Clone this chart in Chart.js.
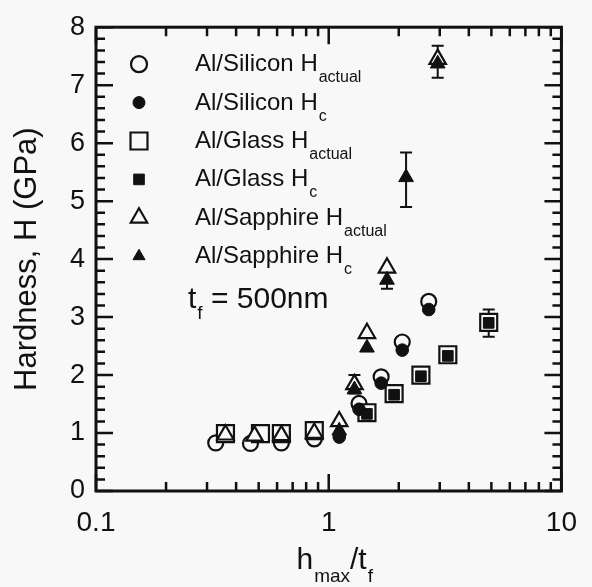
<!DOCTYPE html>
<html>
<head>
<meta charset="utf-8">
<script src="https://cdn.jsdelivr.net/npm/chart.js@4.4.0/dist/chart.umd.min.js"></script>
<style>
  html, body { margin: 0; padding: 0; background: #f7f8f7; }
  #chart { display: block; }
</style>
</head>
<body>
<canvas id="chart" width="592" height="587"></canvas>
<script>
// tick labels
const xTickValues = [0.1, 1, 10];
const yTickValues = [0, 1, 2, 3, 4, 5, 6, 7, 8];

// Al/Silicon
const siActualX = [0.327, 0.461, 0.626, 0.867, 1.35, 1.68, 2.07, 2.69];
const siActualY = [0.83, 0.82, 0.83, 0.90, 1.51, 1.97, 2.57, 3.27];
const siCX = [1.11, 1.35, 1.68, 2.07, 2.69];
const siCY = [0.93, 1.41, 1.86, 2.43, 3.13];

// Al/Glass
const glassActualX = [0.36, 0.509, 0.626, 0.867, 1.46, 1.91, 2.49, 3.25, 4.87];
const glassActualY = [0.99, 0.99, 0.99, 1.04, 1.35, 1.68, 2.0, 2.35, 2.91];
const glassCX = [1.46, 1.91, 2.49, 3.25, 4.87];
const glassCY = [1.33, 1.66, 1.98, 2.33, 2.9];

// Al/Sapphire
const sapActualX = [0.36, 0.48, 0.626, 0.867, 1.11, 1.29, 1.46, 1.78, 2.94];
const sapActualY = [0.97, 0.95, 0.96, 1.0, 1.2, 1.84, 2.72, 3.85, 7.45];
const sapCX = [1.11, 1.29, 1.46, 1.78, 2.15, 2.94];
const sapCY = [1.04, 1.75, 2.47, 3.64, 5.41, 7.37];

// error bars
const errX = [1.29, 1.78, 2.15, 2.94, 4.87];
const errLow = [1.68, 3.49, 4.9, 7.13, 2.66];
const errHigh = [2.0, 3.85, 5.84, 7.68, 3.13];

const BG = '#f7f8f7';
const INK = '#111';
const FONT = '"Liberation Sans", Arial, Helvetica, sans-serif';

const pts = (xs, ys) => xs.map((x, i) => ({ x: x, y: ys[i] }));

// legend rows: [pointStyle, radius, filled, main text, subscript]
const legendRows = [
    ['circle', 8, false, 'Al/Silicon H', 'actual'],
    ['circle', 6, true, 'Al/Silicon H', 'c'],
    ['rect', 12, false, 'Al/Glass H', 'actual'],
    ['rect', 7.5, true, 'Al/Glass H', 'c'],
    ['triangle', 9.5, false, 'Al/Sapphire H', 'actual'],
    ['triangle', 7, true, 'Al/Sapphire H', 'c']
];

function makeSet(label, data, style, radius, filled, order) {
    return {
        label: label,
        data: data,
        pointStyle: style,
        pointRadius: radius,
        pointHoverRadius: radius,
        pointBackgroundColor: filled ? INK : BG,
        pointBorderColor: INK,
        pointBorderWidth: filled ? 1 : 2.2,
        showLine: false,
        order: order
    };
}

function drawSub(ctx, x, y, main, sub, size, subSize, drop) {
    ctx.font = size + 'px ' + FONT;
    ctx.textAlign = 'left';
    ctx.textBaseline = 'alphabetic';
    ctx.fillText(main, x, y);
    const w = ctx.measureText(main).width;
    ctx.font = subSize + 'px ' + FONT;
    ctx.fillText(sub, x + w + 1, y + drop);
    return x + w + 1 + ctx.measureText(sub).width;
}

const background = {
    id: 'background',
    beforeDraw(chart) {
        const ctx = chart.ctx;
        ctx.save();
        ctx.fillStyle = BG;
        ctx.fillRect(0, 0, chart.width, chart.height);
        ctx.restore();
    }
};

const errorBars = {
    id: 'errorBars',
    beforeDatasetsDraw(chart) {
        const ctx = chart.ctx;
        const xs = chart.scales.x, ys = chart.scales.y;
        ctx.save();
        ctx.strokeStyle = INK;
        ctx.lineWidth = 2;
        errX.forEach((x, i) => {
            const px = xs.getPixelForValue(x);
            const lo = ys.getPixelForValue(errLow[i]);
            const hi = ys.getPixelForValue(errHigh[i]);
            ctx.beginPath();
            ctx.moveTo(px, lo); ctx.lineTo(px, hi);
            ctx.moveTo(px - 6, lo); ctx.lineTo(px + 6, lo);
            ctx.moveTo(px - 6, hi); ctx.lineTo(px + 6, hi);
            ctx.stroke();
        });
        ctx.restore();
    }
};

const frame = {
    id: 'frame',
    afterDraw(chart) {
        const ctx = chart.ctx;
        const a = chart.chartArea;
        const xs = chart.scales.x, ys = chart.scales.y;
        ctx.save();
        ctx.strokeStyle = INK;

        // inward ticks on all four sides
        ctx.lineWidth = 2.5;
        ctx.beginPath();
        for (let d = 0.1; d < 10; d *= 10) {
            for (let m = 1; m <= 10; m++) {
                const v = d * m;
                const px = xs.getPixelForValue(v);
                const len = (m === 1 || m === 10) ? 17 : 9;
                ctx.moveTo(px, a.bottom); ctx.lineTo(px, a.bottom - len);
                ctx.moveTo(px, a.top); ctx.lineTo(px, a.top + len);
            }
        }
        for (let k = 0; k <= 40; k++) {
            const py = ys.getPixelForValue(k * 0.2);
            const len = (k % 5 === 0) ? 17 : 9;
            ctx.moveTo(a.left, py); ctx.lineTo(a.left + len, py);
            ctx.moveTo(a.right, py); ctx.lineTo(a.right - len, py);
        }
        ctx.stroke();

        ctx.lineWidth = 3;
        ctx.strokeRect(a.left, a.top, a.right - a.left, a.bottom - a.top);

        // legend
        ctx.fillStyle = INK;
        legendRows.forEach((row, i) => {
            const my = a.top + 37 + i * 38.4;
            const mx = a.left + 43;
            ctx.fillStyle = row[2] ? INK : BG;
            ctx.strokeStyle = INK;
            ctx.lineWidth = row[2] ? 1 : 2.2;
            Chart.helpers.drawPoint(ctx, { pointStyle: row[0], radius: row[1], rotation: 0, borderWidth: ctx.lineWidth }, mx, my);
            ctx.fillStyle = INK;
            drawSub(ctx, a.left + 99, my + 7, row[3], row[4], 24, 16, 11);
        });

        // film thickness note
        ctx.fillStyle = INK;
        let x = drawSub(ctx, a.left + 92, a.top + 281, 't', 'f', 30, 19, 11);
        ctx.font = '30px ' + FONT;
        ctx.fillText(' = 500nm', x, a.top + 281);

        // x axis title
        const cx = (a.left + a.right) / 2 + 6;
        ctx.font = '30px ' + FONT;
        const w1 = ctx.measureText('h').width + ctx.measureText('/t').width;
        ctx.font = '19px ' + FONT;
        const w2 = ctx.measureText('max').width + ctx.measureText('f').width;
        let tx = cx - (w1 + w2 + 2) / 2;
        tx = drawSub(ctx, tx, 569, 'h', 'max', 30, 19, 13);
        drawSub(ctx, tx, 569, '/t', 'f', 30, 19, 13);

        ctx.restore();
    }
};

new Chart(document.getElementById('chart'), {
    type: 'scatter',
    data: {
        datasets: [
            makeSet('Al/Silicon H actual', pts(siActualX, siActualY), 'circle', 7.5, false, 6),
            makeSet('Al/Glass H actual', pts(glassActualX, glassActualY), 'rect', 12, false, 5),
            makeSet('Al/Sapphire H actual', pts(sapActualX, sapActualY), 'triangle', 9.5, false, 4),
            makeSet('Al/Silicon H c', pts(siCX, siCY), 'circle', 6.3, true, 3),
            makeSet('Al/Glass H c', pts(glassCX, glassCY), 'rect', 7.5, true, 2),
            makeSet('Al/Sapphire H c', pts(sapCX, sapCY), 'triangle', 8.5, true, 1)
        ]
    },
    options: {
        responsive: false,
        animation: false,
        layout: { padding: { left: 0, top: 21, right: 29, bottom: 0 } },
        plugins: {
            legend: { display: false },
            tooltip: { enabled: false }
        },
        scales: {
            x: {
                type: 'logarithmic',
                min: 0.1,
                max: 10,
                grid: { display: false, drawTicks: false },
                border: { display: false },
                afterBuildTicks: (scale) => { scale.ticks = xTickValues.map(v => ({ value: v })); },
                afterFit: (scale) => { scale.height = 96; },
                ticks: {
                    color: INK,
                    autoSkip: false,
                    maxRotation: 0,
                    padding: 15,
                    font: { family: FONT, size: 28 },
                    callback: (v) => String(v)
                }
            },
            y: {
                min: 0,
                max: 8,
                grid: { display: false, drawTicks: false },
                border: { display: false },
                afterBuildTicks: (scale) => { scale.ticks = yTickValues.map(v => ({ value: v })); },
                afterFit: (scale) => { scale.width = 96; },
                ticks: {
                    color: INK,
                    padding: 11,
                    font: { family: FONT, size: 27 }
                },
                title: {
                    display: true,
                    text: 'Hardness, H (GPa)',
                    color: INK,
                    padding: { top: 9, bottom: 0 },
                    font: { family: FONT, size: 31 }
                }
            }
        }
    },
    plugins: [background, errorBars, frame]
});
</script>
</body>
</html>
